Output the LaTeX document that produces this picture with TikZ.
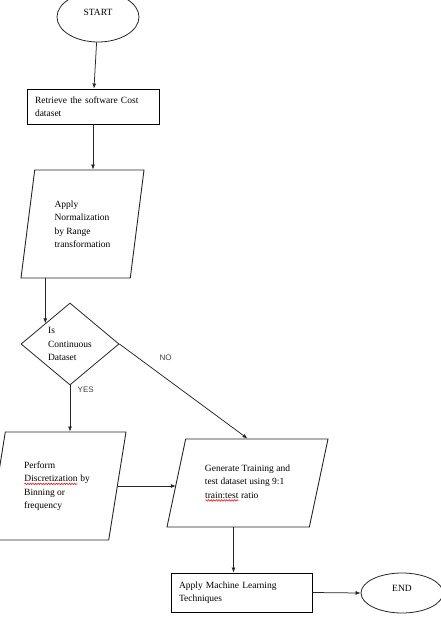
\documentclass[tikz,border=0pt]{standalone}
\usepackage{fontspec}
\setmainfont{Liberation Serif}
\newfontfamily\labelfont{Liberation Sans}
\usetikzlibrary{arrows.meta,shapes.geometric,decorations.pathmorphing}
\newcommand{\spellmark}[1]{\tikz[baseline=(w.base)]{%
  \node[shape=rectangle, draw=none, fill=none, inner sep=0pt, outer sep=0pt, minimum size=0pt, text depth=0pt] (w) {#1};
  \draw[red, line width=0.5pt, decorate, decoration={snake, amplitude=0.8pt, segment length=2.6pt}]
    ([yshift=-2.3pt]w.base west) -- ([yshift=-2.3pt]w.base east);}}
\tikzset{
  terminal/.style={
    ellipse,
    draw=black!85,
    line width=0.8pt,
    inner sep=0pt,
    text depth=10pt
  },
  process/.style={
    rectangle,
    draw=black,
    line width=0.9pt,
    align=left,
    inner xsep=8pt,
    inner ysep=3pt
  },
  datablock/.style={
    trapezium,
    trapezium stretches body,
    draw=black!85,
    line width=0.9pt,
    align=left,
    inner sep=2pt,
    minimum height=108pt
  },
  decision/.style={
    diamond,
    draw=black!85,
    line width=0.8pt,
    align=left,
    inner sep=1pt,
    minimum width=98pt,
    minimum height=82pt
  },
  arrow/.style={
    -{Latex[length=5pt,width=4pt]},
    line width=0.75pt,
    draw=black!85
  },
  branch/.style={
    font=\labelfont\footnotesize,
    text=black!75
  }
}

\begin{document}
\begin{tikzpicture}[x=1pt, y=-1pt, font=\fontsize{9.5}{13.5}\selectfont]
  \useasboundingbox (0,0) rectangle (441,627);

  \node[terminal, minimum width=82pt, minimum height=50pt] (start) at (98,17) {START};
  \node[process, text width=116pt, minimum height=35pt] (retrieve) at (93,106.5) {Retrieve the software Cost\\dataset};
  \node[datablock, trapezium left angle=75, trapezium right angle=105, minimum width=123pt] (norm) at (82.5,224) {Apply\\Normalization\\by Range\\transformation};
  \node[decision] (cont) at (70,344) {Is\\Continuous\\Dataset};
  \node[datablock, trapezium left angle=72, trapezium right angle=108, minimum width=138pt] (perf) at (57,486) {Perform\\\spellmark{Discretization} by\\Binning or\\frequency};
  \node[datablock, trapezium left angle=65.5, trapezium right angle=114.5, minimum width=161pt, minimum height=88pt] (gen) at (247.5,483) {Generate Training and\\test dataset using 9:1\\\spellmark{train:test} ratio};
  \node[process, text width=125pt, minimum height=39pt] (ml) at (241.5,592.5) {Apply Machine Learning\\Techniques};
  \node[terminal, minimum width=82pt, minimum height=40pt] (finish) at (402,593) {END};

  \draw[arrow] (start) -- (retrieve);
  \draw[arrow] (retrieve.south) -- (retrieve.south |- norm.north);
  \draw[arrow] (norm.south -| cont.north west) -- (cont.north west);
  \draw[arrow] (cont.south) -- (cont.south |- perf.north) node[branch, pos=0.1, right=4pt] {YES};
  \draw[arrow] (cont.east) -- (gen.north) node[branch, pos=0.36, above=14pt] {NO};
  \draw[arrow] (perf.east) -- (perf.east -| gen.west);
  \draw[arrow] ([xshift=-14pt]gen.south) -- ([xshift=-14pt]gen.south |- ml.north);
  \draw[arrow] (ml.east) -- (finish.west);
\end{tikzpicture}
\end{document}
